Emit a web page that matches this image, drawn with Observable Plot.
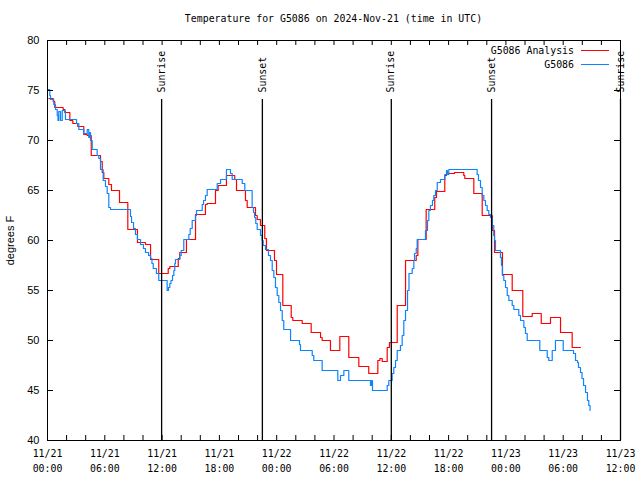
<!DOCTYPE html>
<html><head><meta charset="utf-8">
<script src="https://cdn.jsdelivr.net/npm/d3@7"></script>
<script src="https://cdn.jsdelivr.net/npm/@observablehq/plot@0.6"></script>
<style>
body{margin:0;background:#fff}
#wrap{position:relative;width:640px;height:480px;overflow:hidden;background:#fff}
#title{height:30px;box-sizing:border-box;padding:13px 20px 0 47px;text-align:center;font-family:"DejaVu Sans Mono",monospace;font-size:9.9px;line-height:12px;color:#000;white-space:pre}
#legend{position:absolute;top:43px;right:31px;font-family:"DejaVu Sans Mono",monospace;font-size:9.9px;color:#000}
.row{display:flex;justify-content:flex-end;align-items:center;height:14px;white-space:pre}
.sw{display:inline-block;width:28px;height:1px;margin-left:7px}
</style></head>
<body>
<div id="wrap">
  <div id="title">Temperature for G5086 on 2024-Nov-21 (time in UTC)</div>
  <div id="chart"></div>
  <div id="legend"></div>
</div>
<script>
// ---- data (hours after 2024-11-21 00:00 UTC) ----
const seriesNames = ["G5086 Analysis", "G5086"];
const seriesColors = ["#ff0000", "#0a84ff"];

const analysisHours = [0.14,0.60,0.76,1.64,1.81,2.34,2.65,3.17,3.80,4.16,4.58,5.55,5.73,5.90,6.42,6.70,7.54,8.41,9.42,10.26,10.79,11.65,12.64,12.81,13.69,13.85,14.55,15.50,16.54,16.72,17.59,17.87,18.74,19.61,19.79,20.73,20.91,21.78,21.96,22.30,22.75,22.93,23.77,23.98,24.64,25.52,25.69,26.67,27.61,28.59,28.76,29.63,30.61,31.55,32.60,33.64,34.59,34.80,35.05,35.57,35.81,36.62,37.49,38.61,38.78,39.65,40.55,40.73,41.60,41.78,42.62,43.59,43.70,44.64,45.52,46.57,46.81,47.64,48.66,49.77,50.75,51.70,52.67,53.72,54.94,55.81];
const analysisTemps = [74.2,73.9,73.3,73.1,72.8,72.0,71.7,71.4,70.6,70.5,68.5,67.9,66.8,66.2,65.6,65.0,63.8,61.1,59.8,59.6,58.1,56.7,57.2,57.4,58.2,58.8,60.1,62.6,63.6,63.7,65.0,65.5,66.5,66.1,65.0,64.0,63.3,62.5,62.1,61.5,60.2,59.0,58.0,56.6,53.5,52.3,52.0,51.7,50.8,50.3,50.0,49.0,50.4,48.3,47.4,46.7,48.0,48.2,47.9,49.3,49.8,53.5,58.0,58.5,60.1,63.1,64.3,64.9,66.5,66.7,66.8,66.5,66.2,64.7,62.5,61.0,58.8,56.6,55.0,52.4,52.7,51.7,52.3,50.8,49.3,49.3];

const stationHours = [0.00,0.24,0.31,0.66,0.84,1.02,1.10,1.18,1.36,1.54,1.88,3.04,3.28,3.80,4.16,4.32,4.43,4.50,4.68,5.20,5.37,5.55,5.83,6.07,6.25,6.42,6.60,8.69,8.80,9.01,9.21,9.42,9.74,10.05,10.26,10.58,10.79,10.94,11.07,11.41,11.65,12.53,12.67,12.81,12.93,13.09,13.23,13.33,13.40,13.85,14.00,14.27,14.80,14.94,15.15,15.50,15.60,16.20,16.34,16.54,16.72,17.77,18.12,18.74,19.16,19.34,20.39,20.66,21.43,21.57,21.68,21.81,21.96,22.30,22.48,22.58,22.83,23.14,23.35,23.53,23.70,23.87,24.05,24.22,24.40,24.58,24.74,25.45,26.39,26.49,27.72,27.88,28.76,30.40,30.68,31.03,31.55,33.82,33.93,34.03,35.57,35.74,36.09,36.26,36.44,36.62,36.96,37.14,37.31,37.49,37.70,37.85,38.19,38.36,38.43,38.61,38.71,39.58,39.79,39.93,40.10,40.31,40.45,40.63,40.81,41.15,41.60,41.78,41.88,42.02,44.99,45.13,45.34,45.52,45.69,45.86,46.04,46.21,46.39,46.57,46.73,46.81,46.91,47.43,47.54,47.64,47.78,47.96,48.14,48.31,48.66,48.83,49.35,49.53,49.88,50.05,50.23,51.55,52.33,52.49,52.85,53.19,54.00,55.08,55.29,55.50,55.60,55.81,55.97,56.13,56.34,56.54,56.68,56.81];
const stationTemps = [75.1,74.5,74.1,73.6,73.1,72.5,72.0,72.9,72.0,73.0,72.1,71.7,71.1,70.7,71.1,70.3,70.8,70.0,69.1,68.5,68.2,67.1,66.0,65.4,64.7,63.3,63.1,62.4,61.8,61.2,60.6,60.1,59.6,59.2,58.8,58.5,58.2,57.7,57.2,56.7,56.0,55.0,55.3,55.7,56.0,56.5,57.0,57.7,58.1,58.5,59.0,60.1,60.6,61.2,62.0,62.5,63.0,63.6,64.0,64.5,65.1,65.7,66.1,67.1,66.7,66.1,65.7,65.0,63.3,62.8,62.3,61.7,61.1,60.5,60.0,59.5,59.1,58.5,58.0,57.0,56.3,55.3,54.5,53.8,53.0,52.0,51.1,50.0,49.6,49.0,48.5,48.0,47.0,46.0,46.5,47.0,46.0,45.5,46.0,45.0,45.5,46.0,46.7,47.3,48.0,49.0,49.5,50.5,52.0,53.0,55.0,56.7,57.2,58.0,58.7,59.2,60.1,61.0,62.0,63.0,63.5,64.0,64.5,65.0,65.8,66.1,66.6,67.0,66.6,67.1,66.6,66.0,65.3,64.5,64.0,63.5,63.0,62.6,62.3,61.5,60.5,60.0,59.0,58.3,57.5,56.5,56.0,55.3,54.5,54.0,53.5,53.1,52.5,52.0,51.3,50.7,50.0,49.0,48.3,48.0,49.0,50.0,49.0,48.7,48.0,47.8,47.3,46.8,46.2,45.5,44.8,44.0,43.5,43.0];

const sunHours = [11.95, 22.5, 36.0, 46.5, 60.0];
const sunLabels = ["Sunrise", "Sunset", "Sunrise", "Sunset", "Sunrise"];

const yTicks = [40,45,50,55,60,65,70,75,80];
const xDomainHours = [0, 60];
const majorStepHours = 6;
const minorStepHours = 2;

// ---- build ----
const t0 = Date.UTC(2024, 10, 21, 0, 0);
const toDate = h => new Date(t0 + h * 3600e3);
const analysis = analysisHours.map((h, i) => ({date: toDate(h), temp: analysisTemps[i]}));
const station = stationHours.map((h, i) => ({date: toDate(h), temp: stationTemps[i]}));
const sun = sunHours.map((h, i) => ({date: toDate(h), label: sunLabels[i]}));
const majorTicks = d3.range(xDomainHours[0], xDomainHours[1] + 0.001, majorStepHours).map(toDate);
const minorTicks = d3.range(xDomainHours[0], xDomainHours[1] + 0.001, minorStepHours).map(toDate);

const W = 640, H = 450, mT = 10, mB = 40, mL = 47, mR = 20;
const innerH = H - mT - mB, innerW = W - mL - mR;
const mono = "DejaVu Sans Mono";
const fmt = d3.utcFormat("%m/%d\n%H:%M");

const chart = Plot.plot({
  width: W, height: H,
  marginTop: mT, marginBottom: mB, marginLeft: mL, marginRight: mR,
  style: {background: "white", color: "black", overflow: "visible"},
  x: {type: "utc", domain: xDomainHours.map(toDate)},
  y: {domain: [40, 80]},
  marks: [
    Plot.line(analysis, {x: "date", y: "temp", curve: "step-after", stroke: seriesColors[0], strokeWidth: 1.2}),
    Plot.line(station, {x: "date", y: "temp", curve: "step-after", stroke: seriesColors[1], strokeWidth: 1.2}),
    Plot.ruleX(sun, {x: "date", y1: 40, y2: 74.1, stroke: "black", strokeWidth: 1.3}),
    Plot.text(sun, {x: "date", y: 74.8, text: "label", rotate: -90, textAnchor: "start", fontFamily: mono, fontSize: 9.9, fill: "black"}),
    // inward tick marks, all four sides
    Plot.ruleX(minorTicks, {x: d => d, insetTop: innerH - 5, stroke: "black"}),
    Plot.ruleX(minorTicks, {x: d => d, insetBottom: innerH - 5, stroke: "black"}),
    Plot.ruleY(yTicks, {y: d => d, insetRight: innerW - 6, stroke: "black"}),
    Plot.ruleY(yTicks, {y: d => d, insetLeft: innerW - 6, stroke: "black"}),
    Plot.axisX({ticks: majorTicks, tickSize: 0, tickPadding: 6, tickFormat: fmt, label: null,
      fontFamily: mono, fontSize: 9.9, lineHeight: 1.5}),
    Plot.axisY({ticks: yTicks, tickSize: 0, tickPadding: 8, label: "degrees F", labelAnchor: "center",
      labelArrow: "none", labelOffset: 41, fontFamily: "Liberation Sans", fontSize: 11}),
    Plot.frame({stroke: "black", strokeWidth: 1})
  ]
});
document.getElementById("chart").appendChild(chart);

const legend = document.getElementById("legend");
seriesNames.forEach((name, i) => {
  const row = document.createElement("div");
  row.className = "row";
  const t = document.createElement("span");
  t.textContent = name;
  const sw = document.createElement("span");
  sw.className = "sw";
  sw.style.backgroundColor = seriesColors[i];
  row.appendChild(t); row.appendChild(sw);
  legend.appendChild(row);
});
</script>
</body></html>
